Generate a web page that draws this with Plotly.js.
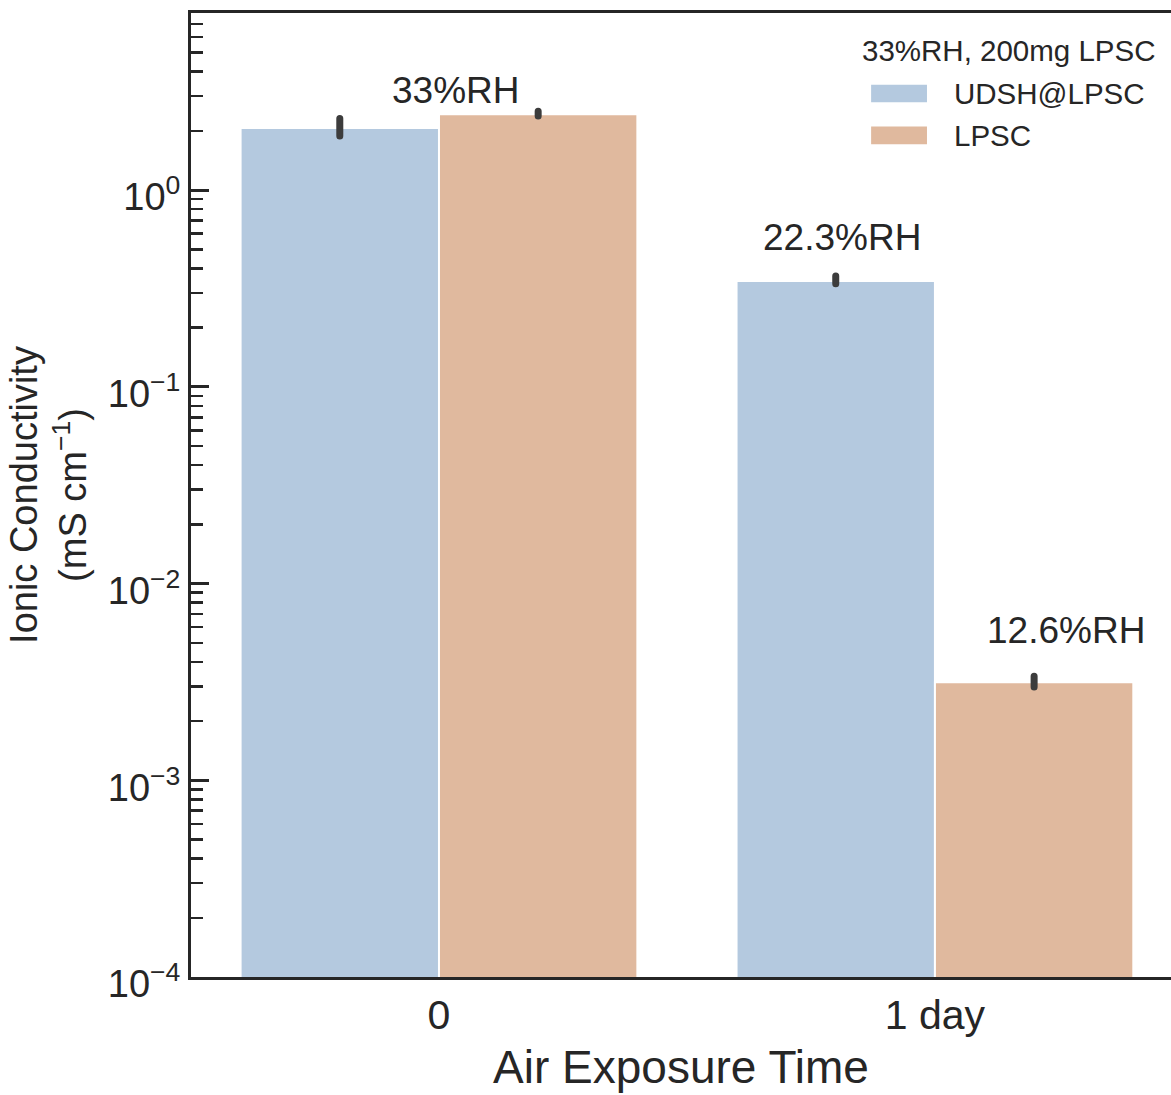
<!DOCTYPE html>
<html>
<head>
<meta charset="utf-8">
<script src="https://cdn.plot.ly/plotly-3.0.1.min.js"></script>
<style>
  html, body { margin: 0; padding: 0; background: #ffffff; overflow: hidden; }
  #chart { width: 1171px; height: 1095px; }
  /* rounded ends on the confidence-interval bars */
  .errorbar path { stroke-linecap: round; }
</style>
</head>
<body>
<div id="chart"></div>
<script>
// Air exposure time groups
const categories = ['0', '1 day'];

// Ionic conductivity (mS cm^-1): mean with lower / upper interval bounds
const udshMean = [2.07, 0.345];
const udshLow  = [1.88, 0.334];
const udshHigh = [2.31, 0.366];

const lpscMean = [2.43, 0.00315];
const lpscLow  = [2.38, 0.00298];
const lpscHigh = [2.515, 0.00338];

const seriesNames = ['UDSH@LPSC', 'LPSC'];
const legendTitle = '33%RH, 200mg LPSC';

// Relative-humidity notes written above the bars
const rhLabels = ['33%RH', '22.3%RH', '12.6%RH'];

// Log-axis tick labels
const tickValues = [1e-4, 1e-3, 1e-2, 1e-1, 1];
const tickLabels = ['10<sup>\u22124</sup>', '10<sup>\u22123</sup>', '10<sup>\u22122</sup>',
                    '10<sup>\u22121</sup>', '10<sup>0</sup>'];

const BLUE = '#b4c9df';
const ORANGE = '#e0b99e';
const INK = '#262626';
const FONT = 'Liberation Sans, Arial, sans-serif';

function errPlus(mean, high) { return mean.map((m, i) => high[i] - m); }
function errMinus(mean, low) { return mean.map((m, i) => m - low[i]); }

function barTrace(name, mean, low, high, color) {
  return {
    type: 'bar',
    name: name,
    x: categories,
    y: mean,
    marker: { color: color, line: { color: '#ffffff', width: 2 } },
    error_y: {
      type: 'data', symmetric: false,
      array: errPlus(mean, high), arrayminus: errMinus(mean, low),
      color: '#3c3c3c', thickness: 7, width: 0
    },
    showlegend: false,
    hoverinfo: 'skip'
  };
}

const traces = [
  barTrace(seriesNames[0], udshMean, udshLow, udshHigh, BLUE),
  barTrace(seriesNames[1], lpscMean, lpscLow, lpscHigh, ORANGE)
];

// Legend block (title, swatches, names) in paper coordinates
const legX0 = 0.694, legX1 = 0.751, legText = 0.777;
const legRows = [0.9165, 0.8730];
const shapes = [
  { type: 'rect', xref: 'paper', yref: 'paper', x0: legX0, x1: legX1,
    y0: legRows[0] - 0.0092, y1: legRows[0] + 0.0092, fillcolor: BLUE, line: { width: 0 } },
  { type: 'rect', xref: 'paper', yref: 'paper', x0: legX0, x1: legX1,
    y0: legRows[1] - 0.0092, y1: legRows[1] + 0.0092, fillcolor: ORANGE, line: { width: 0 } }
];

const annFont = { family: FONT, size: 37, color: INK };
const legFont = { family: FONT, size: 29.5, color: INK };

const annotations = [
  { text: rhLabels[0], x: 0.034, y: 0.508, xref: 'x', yref: 'y', showarrow: false,
    xanchor: 'center', yanchor: 'middle', font: annFont },
  { text: rhLabels[1], x: 0.8135, y: -0.239, xref: 'x', yref: 'y', showarrow: false,
    xanchor: 'center', yanchor: 'middle', font: annFont },
  { text: rhLabels[2], x: 1.265, y: -2.241, xref: 'x', yref: 'y', showarrow: false,
    xanchor: 'center', yanchor: 'middle', font: annFont },
  { text: legendTitle, x: 0.6826, y: 0.961, xref: 'paper', yref: 'paper', showarrow: false,
    xanchor: 'left', yanchor: 'middle', font: legFont },
  { text: seriesNames[0], x: legText, y: legRows[0], xref: 'paper', yref: 'paper', showarrow: false,
    xanchor: 'left', yanchor: 'middle', font: legFont },
  { text: seriesNames[1], x: legText, y: legRows[1], xref: 'paper', yref: 'paper', showarrow: false,
    xanchor: 'left', yanchor: 'middle', font: legFont }
];

const layout = {
  width: 1171,
  height: 1095,
  margin: { l: 191, r: 0, t: 13, b: 118, pad: 0 },
  paper_bgcolor: '#ffffff',
  plot_bgcolor: '#ffffff',
  font: { family: FONT, color: INK },
  barmode: 'group',
  bargap: 0.2,
  bargroupgap: 0,
  showlegend: false,
  xaxis: {
    type: 'category',
    categoryorder: 'array',
    categoryarray: categories,
    range: [-0.5, 1.476],
    showline: true, linecolor: INK, linewidth: 3, mirror: true,
    ticks: '', showgrid: false, zeroline: false,
    tickfont: { family: FONT, size: 41, color: INK },
    title: { text: 'Air Exposure Time', font: { family: FONT, size: 46, color: INK }, standoff: 14 }
  },
  yaxis: {
    type: 'log',
    range: [-4, 0.9],
    tickmode: 'array',
    tickvals: tickValues,
    ticktext: tickLabels,
    ticks: 'inside', ticklen: 18, tickwidth: 3, tickcolor: INK,
    ticklabelshift: 7,
    minor: { ticks: 'inside', ticklen: 12, tickwidth: 2.5, tickcolor: INK, dtick: 'D1', showgrid: false },
    showline: true, linecolor: INK, linewidth: 3, mirror: false,
    showgrid: false, zeroline: false,
    tickfont: { family: FONT, size: 38, color: INK },
    title: { text: 'Ionic Conductivity<br>(mS cm<sup>\u22121</sup>)',
             font: { family: FONT, size: 38, color: INK }, standoff: 10 }
  },
  shapes: shapes,
  annotations: annotations
};

Plotly.newPlot('chart', traces, layout, { displayModeBar: false, staticPlot: true });
</script>
</body>
</html>
